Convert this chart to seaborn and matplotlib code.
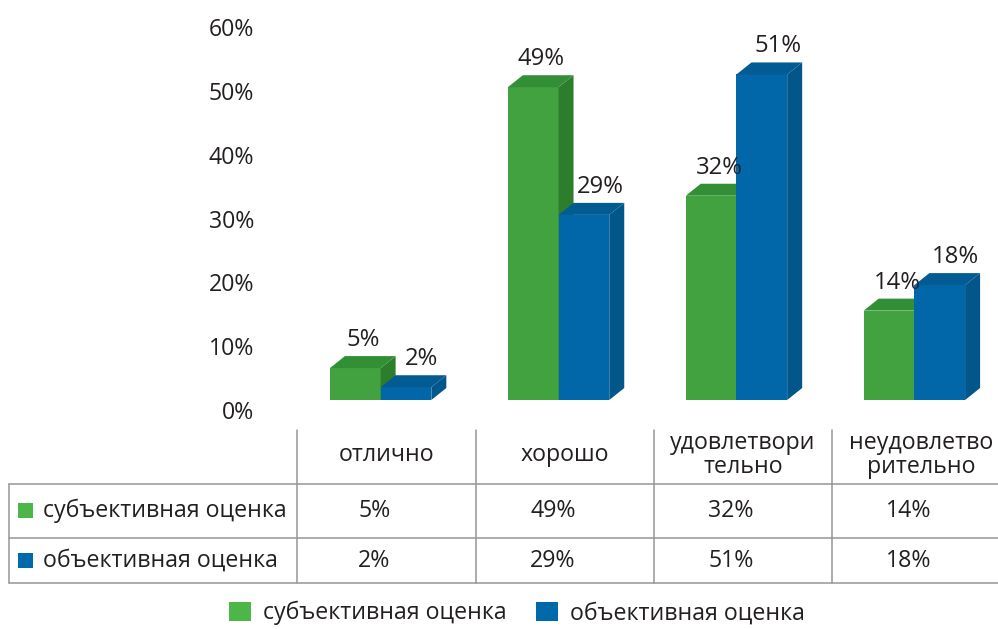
import numpy as np
import pandas as pd
import matplotlib
matplotlib.use("Agg")
import matplotlib.pyplot as plt
from matplotlib.patches import Polygon, Rectangle, Patch
import seaborn as sns

# данные
categories = ["отлично", "хорошо", "удовлетворительно", "неудовлетворительно"]
header_labels = ["отлично", "хорошо", "удовлетвори\nтельно", "неудовлетво\nрительно"]
series = ["субъективная оценка", "объективная оценка"]
subjective = [0.05, 0.49, 0.32, 0.14]
objective = [0.02, 0.29, 0.51, 0.18]
yticks = [0, 0.1, 0.2, 0.3, 0.4, 0.5, 0.6]

front = {"субъективная оценка": "#42a23f", "объективная оценка": "#0267a8"}
side = {"субъективная оценка": "#2c7e2d", "объективная оценка": "#02568a"}
top = {"субъективная оценка": "#338f36", "объективная оценка": "#025b92"}
legend_col = {"субъективная оценка": "#4cb748", "объективная оценка": "#0069aa"}

df = pd.DataFrame({
    "category": categories * 2,
    "series": [series[0]] * 4 + [series[1]] * 4,
    "value": subjective + objective,
})

sns.set_style("white")
plt.rcParams["font.family"] = ["Open Sans", "DejaVu Sans"]
TXT = "#231f20"
FS = 16.7

W, H = 998, 629
fig = plt.figure(figsize=(W / 100, H / 100), dpi=100)
ax = fig.add_axes([297 / W, 219 / H, (W - 297) / W, 383 / H])

sns.barplot(data=df, x="category", y="value", hue="series", order=categories,
            hue_order=series, palette=front, width=0.57, linewidth=0,
            saturation=1, ax=ax, legend=False)

ax.set_xlim(-0.47, 3.47)
ax.set_ylim(0, 0.6)
ax.set_yticks(yticks)
ax.set_yticklabels([f"{int(round(t * 100))}%" for t in yticks], fontsize=FS, color=TXT)
ax.tick_params(axis="y", length=0, pad=31)
ax.set_xticks([])
ax.set_xlabel("")
ax.set_ylabel("")
for s in ax.spines.values():
    s.set_visible(False)

# пиксели -> единицы данных
px_x = 3.94 / (W - 297)
px_y = 0.6 / 383
dx, dy, base = 15 * px_x, 12 * px_y, 10 * px_y

bars = list(ax.patches)
values = subjective + objective
names = [series[0]] * 4 + [series[1]] * 4
for i, (p, v, name) in enumerate(zip(bars, values, names)):
    z = 2 if name == series[0] else 3
    x0 = p.get_x()
    x1 = x0 + p.get_width()
    p.set_y(base)
    p.set_zorder(z)
    t = base + v
    ax.add_patch(Polygon([(x1, base), (x1, t), (x1 + dx, t + dy), (x1 + dx, base + dy)],
                         closed=True, facecolor=side[name], edgecolor="none", zorder=z))
    ax.add_patch(Polygon([(x0, t), (x1, t), (x1 + dx, t + dy), (x0 + dx, t + dy)],
                         closed=True, facecolor=top[name], edgecolor="none", zorder=z))
    shift = 8 if name == series[0] else 16
    ax.text((x0 + x1) / 2 + shift * px_x, t + 28 * px_y, f"{int(round(v * 100))}%",
            ha="center", va="center", fontsize=FS + 0.5, color=TXT, zorder=5)

# таблица
def fx(px):
    return px / W

def fy(py):
    return 1 - py / H

grid = "#969696"
lw = 1.1
col_edges = [297, 476, 654, 832]
for xe in col_edges:
    fig.add_artist(plt.Line2D([fx(xe), fx(xe)], [fy(430), fy(583)], color=grid, lw=lw))
fig.add_artist(plt.Line2D([fx(9), fx(9)], [fy(484), fy(583)], color=grid, lw=lw))
for ye in [484, 538, 583]:
    fig.add_artist(plt.Line2D([fx(9), fx(998)], [fy(ye), fy(ye)], color=grid, lw=lw))

col_px = [(a + b) / 2 for a, b in zip(col_edges, col_edges[1:] + [1010])]
for cx, lab in zip(col_px, header_labels):
    fig.text(fx(cx), fy(455), lab, ha="center", va="center", fontsize=FS,
             color=TXT, linespacing=0.95)

for row_y, vals, name in [(511, subjective, series[0]), (561, objective, series[1])]:
    fig.add_artist(Rectangle((fx(18), fy(row_y + 7)), 15 / W, 15 / H,
                             transform=fig.transFigure, facecolor=legend_col[name],
                             edgecolor="none"))
    fig.text(fx(43), fy(row_y), name, ha="left", va="center", fontsize=FS, color=TXT)
    for cx, v in zip(col_px, vals):
        fig.text(fx(cx - 12), fy(row_y), f"{int(round(v * 100))}%", ha="center",
                 va="center", fontsize=FS, color=TXT)

# легенда
handles = [Patch(facecolor=legend_col[s], edgecolor="none", label=s) for s in series]
fig.legend(handles=handles, loc="center", bbox_to_anchor=(517 / W, fy(613)), ncol=2,
           frameon=False, fontsize=FS, handlelength=0.95, handleheight=0.9,
           handletextpad=0.5, columnspacing=1.3, borderpad=0, labelcolor=TXT)

fig.savefig("out.png", dpi=100)
